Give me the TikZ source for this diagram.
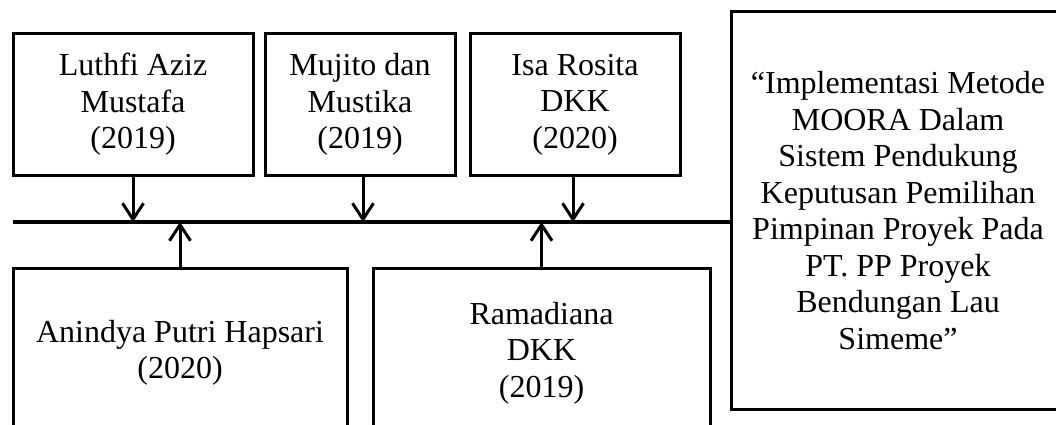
\documentclass[tikz,border=0pt]{standalone}
\usepackage{fontspec}
\setmainfont{Liberation Serif}
\usetikzlibrary{positioning,arrows.meta}
\tikzset{
  ref box/.style={
    draw=black,
    line width=3pt,
    align=center,
    inner sep=0pt,
    minimum width={#1pt},
    font=\fontsize{32}{36.5}\selectfont,
  },
  link/.style={
    line width=3pt,
    -{Straight Barb[length=16pt,width=21pt,line width=3pt]},
  }
}

\begin{document}
\begin{tikzpicture}[x=1pt,y=1pt]
        \useasboundingbox (0,0) rectangle (1056,-425);
        \clip (0,0) rectangle (1056,-425);

        \node [ref box=240, minimum height=141pt] (luthfi) at (133,-104.5) {Luthfi Aziz\\Mustafa\\(2019)};
        \node [ref box=190, minimum height=141pt, right=9pt of luthfi] (mujito) {Mujito dan\\Mustika\\(2019)};
        \node [ref box=210, minimum height=141pt, right=12pt of mujito] (isa) {Isa Rosita\\DKK\\(2020)};
        \node [ref box=330, minimum height=395pt, draw=none] (judul) at (898,-210.5) {“Implementasi Metode\\MOORA Dalam\\Sistem Pendukung\\Keputusan Pemilihan\\Pimpinan Proyek Pada\\PT. PP Proyek\\Bendungan Lau\\Simeme”};
        % box runs off the right edge
        \draw [line width=3pt] ([xshift=60pt]judul.north east) -| (judul.south west) -- ([xshift=60pt]judul.south east);

        \node [ref box=334, minimum height=170pt] (anindya) at (180,-353) {Anindya Putri Hapsari\\(2020)};
        \node [ref box=337, minimum height=170pt, right=23pt of anindya] (ramadiana) {Ramadiana\\DKK\\(2019)};

        \coordinate (bus) at (13,-222);
        \draw [line width=4pt] (bus) -- (bus -| judul.west);

        \draw [link] (luthfi.south) -- (luthfi.south |- bus);
        \draw [link] ([xshift=3pt]mujito.south) -- ([xshift=3pt]mujito.south |- bus);
        \draw [link] ([xshift=-2pt]isa.south) -- ([xshift=-2pt]isa.south |- bus);
        \draw [link] (anindya.north) -- (anindya.north |- bus);
        \draw [link] (ramadiana.north) -- (ramadiana.north |- bus);
    \end{tikzpicture}
\end{document}
